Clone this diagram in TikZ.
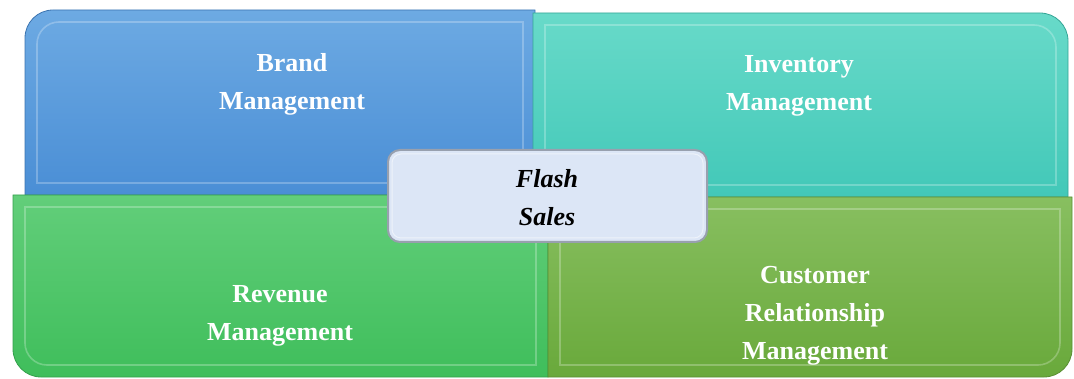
\documentclass[tikz,border=0pt]{standalone}
\usepackage{fontspec}
\setmainfont{Liberation Serif}
\begin{document}
\begin{tikzpicture}[x=1pt,y=1pt,
  lbl/.style={text=white,align=center,font=\fontsize{26}{38}\selectfont\bfseries},
  bev/.style={draw=white,draw opacity=0.25,line width=1.6pt},
  edge/.style={draw=#1,line width=0.8pt}]
\definecolor{bluT}{HTML}{6DAAE3}\definecolor{bluB}{HTML}{4A8ED5}\definecolor{bluE}{HTML}{3C74B0}
\definecolor{teaT}{HTML}{68DAC9}\definecolor{teaB}{HTML}{42C8B8}\definecolor{teaE}{HTML}{35A596}
\definecolor{grnT}{HTML}{62CE7A}\definecolor{grnB}{HTML}{3FBE5B}\definecolor{grnE}{HTML}{34A04C}
\definecolor{oliT}{HTML}{88BF60}\definecolor{oliB}{HTML}{69A93B}\definecolor{oliE}{HTML}{5A8F33}
\definecolor{flF}{HTML}{DCE6F6}\definecolor{flE}{HTML}{98A0AE}
\useasboundingbox (0,0) rectangle (1074,378);
% Brand
\path[top color=bluT,bottom color=bluB,edge=bluE]
  (25,183) -- (25,340) arc[start angle=180,end angle=90,radius=28] -- (535,368) -- (535,183) -- cycle;
\draw[bev] (37,195) -- (37,334) arc[start angle=180,end angle=90,radius=22] -- (523,356) -- (523,195) -- cycle;
% Inventory
\path[top color=teaT,bottom color=teaB,edge=teaE]
  (533,181) -- (533,365) -- (1040,365) arc[start angle=90,end angle=0,radius=28] -- (1068,181) -- cycle;
\draw[bev] (545,193) -- (545,353) -- (1034,353) arc[start angle=90,end angle=0,radius=22] -- (1056,193) -- cycle;
% Revenue
\path[top color=grnT,bottom color=grnB,edge=grnE]
  (13,183) -- (13,29) arc[start angle=180,end angle=270,radius=28] -- (548,1) -- (548,183) -- cycle;
\draw[bev] (25,171) -- (25,35) arc[start angle=180,end angle=270,radius=22] -- (536,13) -- (536,171) -- cycle;
% Customer
\path[top color=oliT,bottom color=oliB,edge=oliE]
  (548,181) -- (548,1) -- (1044,1) arc[start angle=270,end angle=360,radius=28] -- (1072,181) -- cycle;
\draw[bev] (560,169) -- (560,13) -- (1038,13) arc[start angle=270,end angle=360,radius=22] -- (1060,169) -- cycle;
% Flash
\path[fill=flF,draw=flE,line width=2pt,rounded corners=12pt] (388,136) rectangle (707,228);
\draw[white,opacity=0.5,line width=1pt,rounded corners=9pt] (392,140) rectangle (703,224);
% labels
\node[lbl] (brand) at (292,294) {Brand\\Management};
\node[lbl] (inv) at (799,292) {Inventory\\Management};
\node[lbl] (rev) at (280,62) {Revenue\\Management};
\node[lbl] (crm) at (815,62.5) {Customer\\Relationship\\Management};
\node[align=center,text=black,font=\fontsize{26}{38}\selectfont\bfseries\itshape] (flash) at (547,180.5) {Flash\\Sales};
\end{tikzpicture}
\end{document}
